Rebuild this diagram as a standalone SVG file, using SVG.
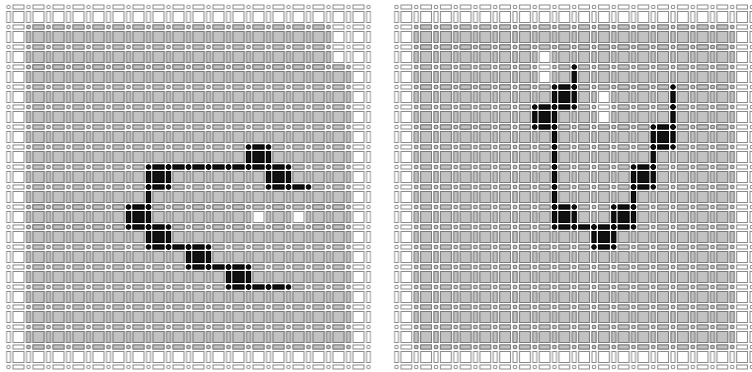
<svg xmlns="http://www.w3.org/2000/svg" xmlns:xlink="http://www.w3.org/1999/xlink" width="752" height="372" viewBox="0 0 752 372">
<style>
.w rect,.w circle{fill:#fff;stroke:#8a8a8a;stroke-width:1}
.g rect,.g circle{fill:#c2c2c2;stroke:#7a7a7a;stroke-width:1}
.k rect,.k circle{fill:#111;stroke:#000;stroke-width:1}
</style>
<defs>
<pattern id="pwL" x="5.5" y="4" width="20" height="20" patternUnits="userSpaceOnUse"><g class="w"><circle cx="3" cy="3" r="1.8"/><rect x="7.5" y="1" width="11" height="4"/><rect x="1" y="7.5" width="4" height="11"/><rect x="7.5" y="7.5" width="11" height="11"/></g></pattern>
<pattern id="pgL" x="5.5" y="4" width="20" height="20" patternUnits="userSpaceOnUse"><g class="g"><circle cx="3" cy="3" r="1.8"/><rect x="7.5" y="1" width="11" height="4"/><rect x="1" y="7.5" width="4" height="11"/><rect x="7.5" y="7.5" width="11" height="11"/></g></pattern>
<pattern id="pwR" x="393.5" y="4" width="19.75" height="20" patternUnits="userSpaceOnUse"><g class="w"><circle cx="3" cy="3" r="1.8"/><rect x="7.5" y="1" width="10.75" height="4"/><rect x="1" y="7.5" width="4" height="11"/><rect x="7.5" y="7.5" width="10.75" height="11"/></g></pattern>
<pattern id="pgR" x="393.5" y="4" width="19.75" height="20" patternUnits="userSpaceOnUse"><g class="g"><circle cx="3" cy="3" r="1.8"/><rect x="7.5" y="1" width="10.75" height="4"/><rect x="1" y="7.5" width="4" height="11"/><rect x="7.5" y="7.5" width="10.75" height="11"/></g></pattern>
<g id="fL" class="k"><rect x="4.5" y="4.5" width="11" height="11"/><rect x="4.5" y="-2" width="11" height="4"/><rect x="4.5" y="18" width="11" height="4"/><rect x="-2" y="4.5" width="4" height="11"/><rect x="18" y="4.5" width="4" height="11"/><circle r="2.3"/><circle cx="20" r="2.3"/><circle cy="20" r="2.3"/><circle cx="20" cy="20" r="2.3"/></g>
<g id="hL" class="k"><rect x="4.5" y="-2" width="11" height="4"/><circle r="2.3"/><circle cx="20" r="2.3"/></g>
<g id="vL" class="k"><rect x="-2" y="4.5" width="4" height="11"/><circle r="2.3"/><circle cy="20" r="2.3"/></g>
<g id="fR" class="k"><rect x="4.5" y="4.5" width="10.75" height="11"/><rect x="4.5" y="-2" width="10.75" height="4"/><rect x="4.5" y="18" width="10.75" height="4"/><rect x="-2" y="4.5" width="4" height="11"/><rect x="17.75" y="4.5" width="4" height="11"/><circle r="2.3"/><circle cx="19.75" r="2.3"/><circle cy="20" r="2.3"/><circle cx="19.75" cy="20" r="2.3"/></g>
<g id="hR" class="k"><rect x="4.5" y="-2" width="10.75" height="4"/><circle r="2.3"/><circle cx="19.75" r="2.3"/></g>
<g id="vR" class="k"><rect x="-2" y="4.5" width="4" height="11"/><circle r="2.3"/><circle cy="20" r="2.3"/></g>
</defs>
<g id="panel-left">
<rect x="5.5" y="4" width="366" height="366" fill="url(#pwL)"/>
<g fill="url(#pgL)">
<rect x="25.5" y="24" width="306" height="46"/>
<rect x="25.5" y="64" width="326" height="146"/>
<rect x="25.5" y="204" width="226" height="26"/>
<rect x="265.5" y="204" width="26" height="26"/>
<rect x="305.5" y="204" width="46" height="26"/>
<rect x="25.5" y="224" width="326" height="126"/>
</g>
</g>
<g id="panel-right">
<rect x="393.5" y="4" width="358.5" height="366" fill="url(#pwR)"/>
<g fill="url(#pgR)">
<rect x="413.25" y="24" width="322" height="26"/>
<rect x="413.25" y="44" width="124.5" height="46"/>
<rect x="551.5" y="44" width="183.75" height="46"/>
<rect x="413.25" y="84" width="183.75" height="46"/>
<rect x="610.75" y="84" width="124.5" height="46"/>
<rect x="413.25" y="124" width="322" height="226"/>
</g>
</g>
<g id="path-left">
<use xlink:href="#fL" x="248.5" y="147"/>
<use xlink:href="#fL" x="268.5" y="167"/>
<use xlink:href="#hL" x="288.5" y="187"/>
<use xlink:href="#hL" x="168.5" y="167"/>
<use xlink:href="#hL" x="188.5" y="167"/>
<use xlink:href="#hL" x="208.5" y="167"/>
<use xlink:href="#hL" x="228.5" y="167"/>
<use xlink:href="#fL" x="148.5" y="167"/>
<use xlink:href="#vL" x="148.5" y="187"/>
<use xlink:href="#fL" x="128.5" y="207"/>
<use xlink:href="#fL" x="148.5" y="227"/>
<use xlink:href="#hL" x="168.5" y="247"/>
<use xlink:href="#fL" x="188.5" y="247"/>
<use xlink:href="#hL" x="208.5" y="267"/>
<use xlink:href="#fL" x="228.5" y="267"/>
<use xlink:href="#hL" x="248.5" y="287"/>
<use xlink:href="#hL" x="268.5" y="287"/>
</g>
<g id="path-right">
<use xlink:href="#vR" x="574.25" y="67"/>
<use xlink:href="#fR" x="554.5" y="87"/>
<use xlink:href="#fR" x="534.75" y="107"/>
<use xlink:href="#vR" x="554.5" y="127"/>
<use xlink:href="#vR" x="554.5" y="147"/>
<use xlink:href="#vR" x="554.5" y="167"/>
<use xlink:href="#vR" x="554.5" y="187"/>
<use xlink:href="#fR" x="554.5" y="207"/>
<use xlink:href="#hR" x="574.25" y="227"/>
<use xlink:href="#fR" x="594" y="227"/>
<use xlink:href="#fR" x="613.75" y="207"/>
<use xlink:href="#vR" x="633.5" y="187"/>
<use xlink:href="#fR" x="633.5" y="167"/>
<use xlink:href="#vR" x="653.25" y="147"/>
<use xlink:href="#fR" x="653.25" y="127"/>
<use xlink:href="#vR" x="673" y="87"/>
<use xlink:href="#vR" x="673" y="107"/>
</g>
</svg>
